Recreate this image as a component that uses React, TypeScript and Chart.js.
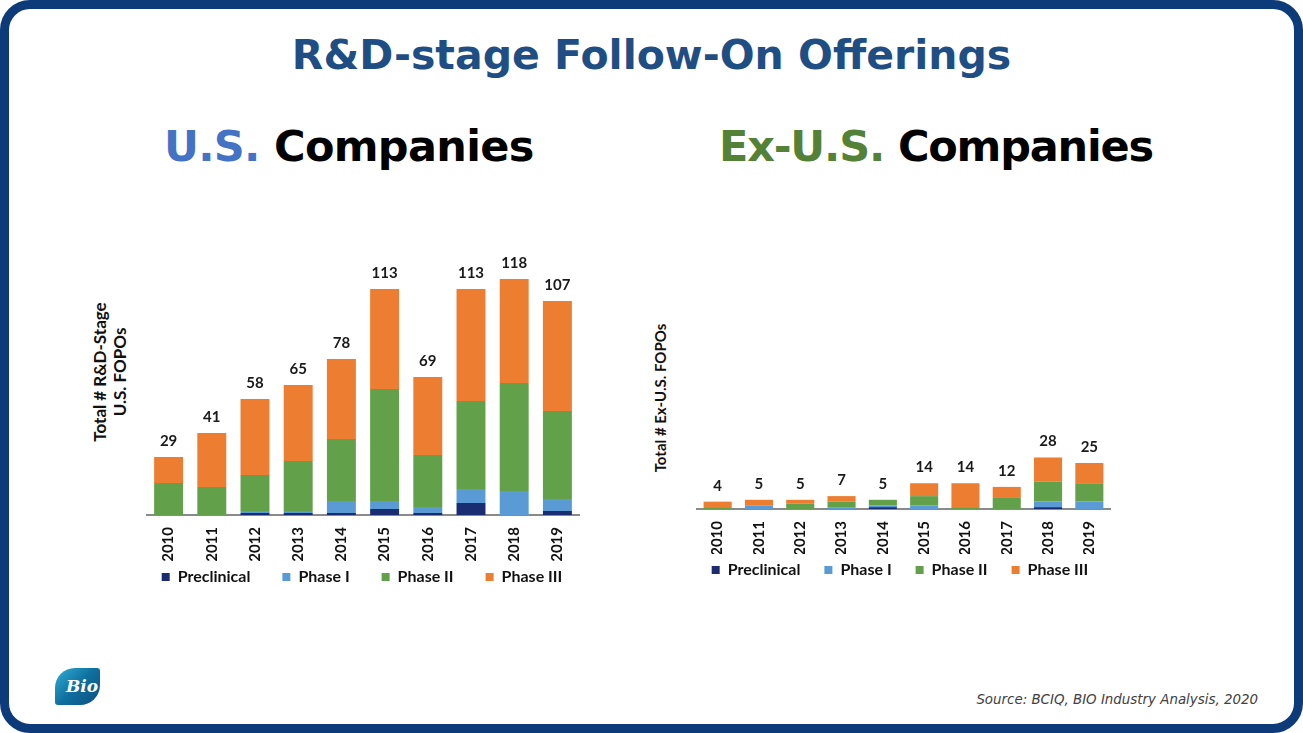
import React, { useEffect, useRef } from "react";
import { Chart, registerables } from "chart.js";

Chart.register(...registerables);

const years = ["2010", "2011", "2012", "2013", "2014", "2015", "2016", "2017", "2018", "2019"];
const seriesNames = ["Preclinical", "Phase I", "Phase II", "Phase III"];
const seriesColors = ["#1B2D72", "#5B9BD5", "#62A04A", "#ED7D31"];

// U.S. companies
const usPreclinical = [0, 0, 1, 1, 1, 3, 1, 6, 0, 2];
const usPhaseI = [0, 0, 1, 1, 6, 4, 3, 7, 12, 6];
const usPhaseII = [16, 14, 18, 25, 31, 56, 26, 44, 54, 44];
const usPhaseIII = [13, 27, 38, 38, 40, 50, 39, 56, 52, 55];

// Ex-U.S. companies
const exPreclinical = [0, 0, 0, 0, 1, 0, 0, 0, 1, 0];
const exPhaseI = [0, 2, 0, 1, 1, 2, 0, 0, 3, 4];
const exPhaseII = [1, 0, 3, 3, 3, 5, 1, 6, 11, 10];
const exPhaseIII = [3, 3, 2, 3, 0, 7, 13, 6, 13, 11];

const FONT = "Lato";

const totalsPlugin = {
  id: "totals",
  afterDatasetsDraw(chart: any) {
    const { ctx } = chart;
    const xScale = chart.scales.x;
    const yScale = chart.scales.y;
    const n = chart.data.labels.length;
    ctx.save();
    ctx.font = `bold 15px ${FONT}`;
    ctx.fillStyle = "#1a1a1a";
    ctx.textAlign = "center";
    ctx.textBaseline = "alphabetic";
    for (let i = 0; i < n; i++) {
      let total = 0;
      chart.data.datasets.forEach((ds: any) => (total += ds.data[i]));
      const x = xScale.getPixelForValue(i);
      const y = yScale.getPixelForValue(total);
      ctx.fillText(String(total), x, y - 11);
    }
    ctx.restore();
  },
};

type BarProps = {
  left: number;
  top: number;
  width: number;
  height: number;
  series: number[][];
  yMax: number;
  padTop: number;
  leftGap: number;
  rightGap: number;
  axisH: number;
  gapSpaces: number;
  barPct: number;
};

function StackedBars(p: BarProps) {
  const ref = useRef<HTMLCanvasElement | null>(null);
  useEffect(() => {
    if (!ref.current) return;
    const hidden = {
      grid: { display: false },
      border: { display: false },
      ticks: { display: false },
    };
    const spacer = "\u2002".repeat(p.gapSpaces);
    const chart = new Chart(ref.current, {
      type: "bar",
      data: {
        labels: years,
        datasets: p.series.map((d, i) => ({
          label: seriesNames[i],
          data: d,
          backgroundColor: seriesColors[i],
          borderWidth: 0,
          categoryPercentage: 1,
          barPercentage: p.barPct,
        })),
      },
      options: {
        animation: false,
        responsive: false,
        maintainAspectRatio: false,
        layout: { padding: { left: 0, right: 0, top: p.padTop, bottom: 0 } },
        scales: {
          x: {
            stacked: true,
            grid: { display: false },
            border: { display: true, color: "#8a8a8a", width: 2 },
            ticks: {
              minRotation: 90,
              maxRotation: 90,
              autoSkip: false,
              padding: 4,
              color: "#111",
              font: { family: FONT, weight: "bold", size: 15 },
            },
            afterFit: (s: any) => {
              s.height = p.axisH;
            },
          },
          y: {
            stacked: true,
            display: true,
            position: "left",
            min: 0,
            max: p.yMax,
            ...hidden,
            afterFit: (s: any) => {
              s.width = p.leftGap;
            },
          },
          y2: {
            display: true,
            position: "right",
            min: 0,
            max: 1,
            ...hidden,
            afterFit: (s: any) => {
              s.width = p.rightGap;
            },
          },
        },
        plugins: {
          legend: {
            position: "bottom",
            labels: {
              boxWidth: 8,
              boxHeight: 8,
              padding: 8,
              color: "#111",
              font: { family: FONT, weight: "bold", size: 16 },
              generateLabels: (c: any) => {
                const items = (Chart.defaults.plugins.legend.labels as any).generateLabels(c);
                return items.map((it: any, i: number) => ({
                  ...it,
                  text: i < items.length - 1 ? it.text + spacer : it.text,
                }));
              },
            },
          },
          tooltip: { enabled: false },
        },
      } as any,
      plugins: [totalsPlugin],
    });
    return () => chart.destroy();
  }, []);
  return (
    <canvas
      ref={ref}
      width={p.width}
      height={p.height}
      style={{ position: "absolute", left: p.left, top: p.top, width: p.width, height: p.height }}
    />
  );
}

export default function App() {
  const abs: React.CSSProperties = { position: "absolute" };
  return (
    <div
      style={{
        position: "absolute",
        left: 0,
        top: 0,
        width: 1303,
        height: 733,
        background: "#fff",
        overflow: "hidden",
        fontFamily: "'DejaVu Sans', sans-serif",
      }}
    >
      <div
        style={{
          ...abs,
          left: 0,
          top: 31,
          width: 1303,
          textAlign: "center",
          fontWeight: "bold",
          fontSize: 41,
          color: "#1F4E84",
          whiteSpace: "nowrap",
        }}
      >
        R&amp;D-stage Follow-On Offerings
      </div>

      <div
        style={{
          ...abs,
          left: 164,
          top: 121,
          fontWeight: "bold",
          fontSize: 43,
          letterSpacing: -0.7,
          color: "#000",
          whiteSpace: "nowrap",
        }}
      >
        <span style={{ color: "#4472C4" }}>U.S.</span> Companies
      </div>
      <div
        style={{
          ...abs,
          left: 719,
          top: 121,
          fontWeight: "bold",
          fontSize: 43,
          letterSpacing: -1.2,
          color: "#000",
          whiteSpace: "nowrap",
        }}
      >
        <span style={{ color: "#538135" }}>Ex-U.S.</span> Companies
      </div>

      <div
        style={{
          ...abs,
          left: 20,
          top: 352,
          width: 180,
          height: 40,
          lineHeight: "20px",
          textAlign: "center",
          transform: "rotate(-90deg)",
          fontFamily: FONT,
          fontWeight: "bold",
          fontSize: 17,
          color: "#111",
          whiteSpace: "nowrap",
        }}
      >
        Total # R&amp;D-Stage
        <br />
        U.S. FOPOs
      </div>
      <div
        style={{
          ...abs,
          left: 580,
          top: 389,
          width: 160,
          height: 18,
          lineHeight: "18px",
          textAlign: "center",
          transform: "rotate(-90deg)",
          fontFamily: FONT,
          fontWeight: "bold",
          fontSize: 15,
          color: "#111",
          whiteSpace: "nowrap",
        }}
      >
        Total # Ex-U.S. FOPOs
      </div>

      <StackedBars
        left={127}
        top={250}
        width={470}
        height={345}
        series={[usPreclinical, usPhaseI, usPhaseII, usPhaseIII]}
        yMax={118}
        padTop={29}
        leftGap={20}
        rightGap={18}
        axisH={46}
        gapSpaces={3}
        barPct={0.67}
      />
      <StackedBars
        left={665}
        top={245}
        width={470}
        height={343}
        series={[exPreclinical, exPhaseI, exPhaseII, exPhaseIII]}
        yMax={125}
        padTop={34}
        leftGap={32}
        rightGap={25}
        axisH={45}
        gapSpaces={2}
        barPct={0.68}
      />

      <div
        style={{
          ...abs,
          left: 55,
          top: 668,
          width: 45,
          height: 37,
          borderRadius: "20px 3px 20px 3px",
          background: "linear-gradient(135deg, #2fb0d6 0%, #0f6f9e 50%, #0b4f80 100%)",
        }}
      >
        <div
          style={{
            ...abs,
            left: 11,
            top: 8,
            fontFamily: "'DejaVu Serif', serif",
            fontWeight: "bold",
            fontStyle: "italic",
            fontSize: 17,
            color: "#fff",
            lineHeight: "20px",
          }}
        >
          Bio
        </div>
      </div>

      <div
        style={{
          ...abs,
          right: 45,
          top: 692,
          fontStyle: "italic",
          fontSize: 13.4,
          color: "#404040",
          whiteSpace: "nowrap",
        }}
      >
        Source: BCIQ, BIO Industry Analysis, 2020
      </div>

      <div
        style={{
          ...abs,
          left: 0,
          top: 0,
          width: 1303,
          height: 733,
          boxSizing: "border-box",
          border: "9px solid #0D3A78",
          borderRadius: 30,
          pointerEvents: "none",
        }}
      />
    </div>
  );
}
